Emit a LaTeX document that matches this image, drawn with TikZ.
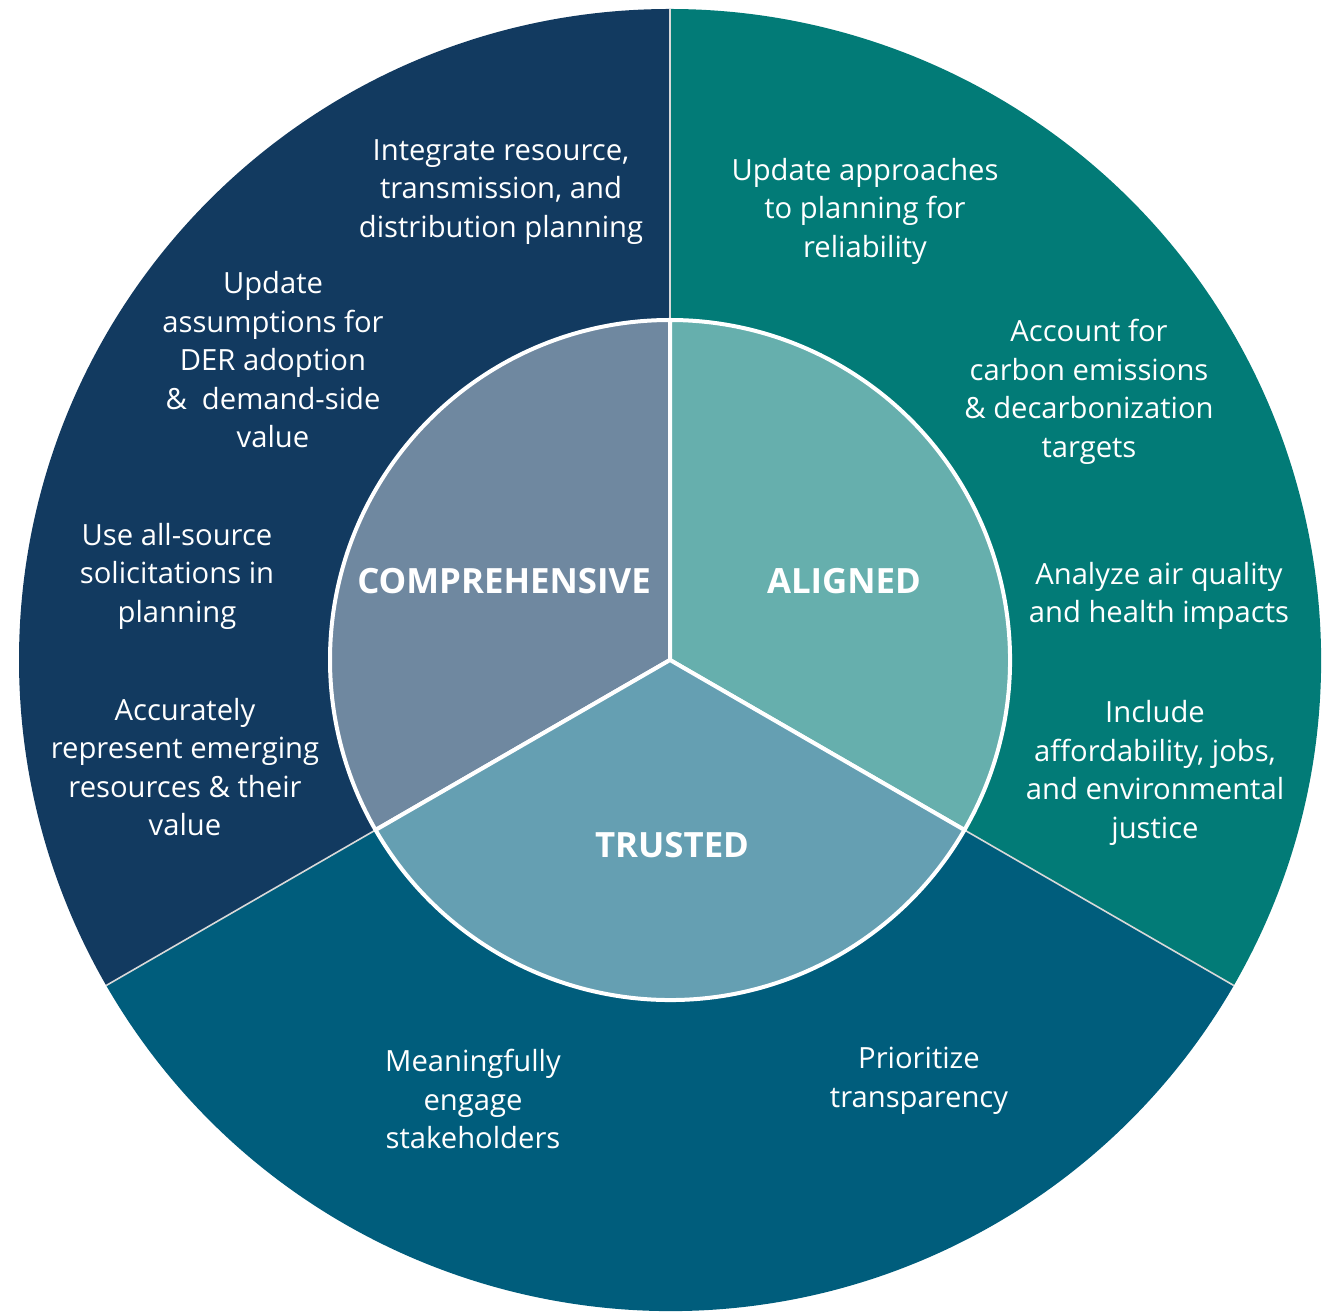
\documentclass[tikz,border=0pt]{standalone}
\usepackage{fontspec}
\setmainfont{Open Sans}
\definecolor{navy}{HTML}{123A60}
\definecolor{teal}{HTML}{027B77}
\definecolor{blue}{HTML}{005D7C}
\definecolor{icomp}{HTML}{6F88A0}
\definecolor{ialig}{HTML}{66AFAD}
\definecolor{itrus}{HTML}{659FB2}
\definecolor{divider}{HTML}{D9D9D9}
\tikzset{
  item/.style={text=white, align=center, font=\fontsize{14.6}{19.25}\selectfont, inner sep=0pt},
  pillar/.style={text=white, font=\fontsize{17.4}{19}\selectfont\bfseries, inner sep=0pt},
  wedge/.style={draw=white, line width=2pt, line join=round},
  divline/.style={draw=divider, line width=0.8pt}
}
\begin{document}
\begin{tikzpicture}[x=0.5pt,y=0.5pt]
\useasboundingbox (0,0) rectangle (1322,1312);
\coordinate (C) at (670,652);
% outer sectors
\fill[navy] (C) -- ++(90:651) arc[start angle=90,end angle=210,radius=651] -- cycle;
\fill[teal] (C) -- ++(-30:651) arc[start angle=-30,end angle=90,radius=651] -- cycle;
\fill[blue] (C) -- ++(210:651) arc[start angle=210,end angle=330,radius=651] -- cycle;
% dividers
\path (C) ++(90:340) coordinate (i1);
\path (C) ++(90:651) coordinate (o1);
\path (C) ++(210:340) coordinate (i2);
\path (C) ++(210:651) coordinate (o2);
\path (C) ++(330:340) coordinate (i3);
\path (C) ++(330:651) coordinate (o3);
\draw[divline] (i1) -- (o1);
\draw[divline] (i2) -- (o2);
\draw[divline] (i3) -- (o3);
% inner sectors
\filldraw[fill=icomp, wedge] (C) -- (i1) arc[start angle=90,end angle=210,radius=340] -- cycle;
\filldraw[fill=ialig, wedge] (C) -- (i3) arc[start angle=-30,end angle=90,radius=340] -- cycle;
\filldraw[fill=itrus, wedge] (C) -- (i2) arc[start angle=210,end angle=330,radius=340] -- cycle;
% pillar labels
\node[pillar] (comp) at (504,731) {COMPREHENSIVE};
\node[pillar] (alig) at (844,731) {ALIGNED};
\node[pillar] (trus) at (672,467) {TRUSTED};
% items
\node[item] (t1) at (501,1120) {Integrate resource,\\transmission, and\\distribution planning};
\node[item] (t2) at (865,1101) {Update approaches\\to planning for\\reliability};
\node[item] (t3) at (273,952) {Update\\assumptions for\\DER adoption\\\&\ \ demand-side\\value};
\node[item] (t4) at (1089,920) {Account for\\carbon emissions\\\& decarbonization\\targets};
\node[item] (t5) at (177,736) {Use all-source\\solicitations in\\planning};
\node[item] (t6) at (1159,716) {Analyze air quality\\and health impacts};
\node[item] (t7) at (185,545) {Accurately\\represent emerging\\resources \& their\\value};
\node[item] (t8) at (1155,539) {Include\\affordability, jobs,\\and environmental\\justice};
\node[item] (t9) at (473,213) {Meaningfully\\engage\\stakeholders};
\node[item] (t10) at (919,231) {Prioritize\\transparency};
\end{tikzpicture}
\end{document}
